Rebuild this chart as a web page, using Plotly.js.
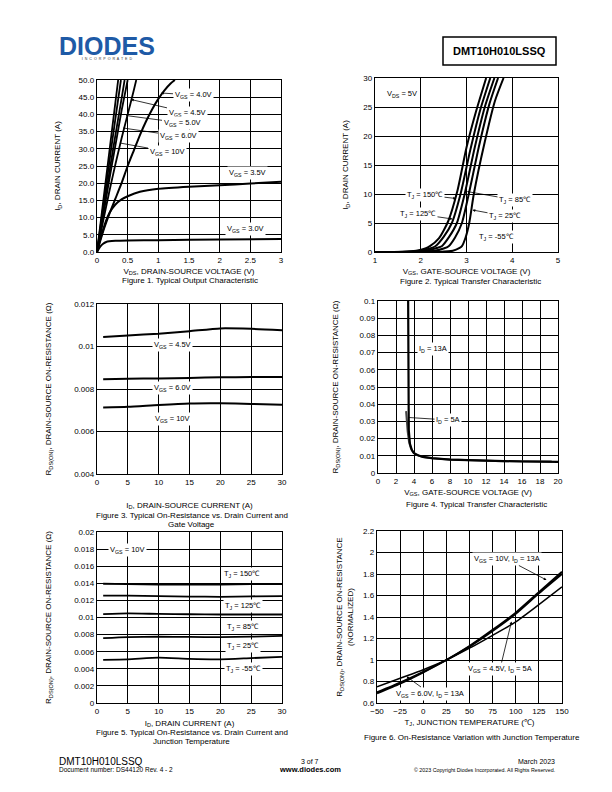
<!DOCTYPE html>
<html><head><meta charset="utf-8">
<script src="https://cdn.plot.ly/plotly-3.0.1.min.js"></script>
<style>html,body{margin:0;padding:0;background:#fff}#c{width:612px;height:792px}</style>
</head><body><div id="c"></div>
<script>
// ---------- Figure 1 data: Typical Output Characteristic ----------
const fig1_vgs10_vds = [0, 0.1, 0.2, 0.3, 0.345];
const fig1_vgs10_id  = [0, 14.5, 29, 43.5, 50];
const fig1_unl_vds   = [0, 0.1, 0.2, 0.3, 0.39];
const fig1_unl_id    = [0, 13, 26, 38.8, 50];
const fig1_vgs6_vds  = [0, 0.1, 0.2, 0.3, 0.4, 0.45];
const fig1_vgs6_id   = [0, 11.5, 23, 34, 44.5, 50];
const fig1_vgs5_vds  = [0, 0.1, 0.2, 0.3, 0.4, 0.5];
const fig1_vgs5_id   = [0, 10.5, 21, 31, 41, 50];
const fig1_vgs45_vds = [0, 0.1, 0.2, 0.3, 0.4, 0.5, 0.6, 0.64];
const fig1_vgs45_id  = [0, 9, 17.5, 25.5, 33, 40, 47, 50];
const fig1_vgs4_vds  = [0, 0.1, 0.2, 0.3, 0.4, 0.5, 0.6, 0.7, 0.8, 0.9, 1.0, 1.1, 1.2, 1.27];
const fig1_vgs4_id   = [0, 6, 11, 15.5, 20, 25, 29.5, 34, 38, 41.5, 44.5, 47, 49, 50];
const fig1_vgs35_vds = [0, 0.05, 0.1, 0.15, 0.2, 0.3, 0.4, 0.5, 0.7, 1, 1.5, 2, 2.5, 3];
const fig1_vgs35_id  = [0, 3.5, 6.5, 9.2, 11.3, 13.8, 15.3, 16.2, 17.5, 18.4, 19, 19.4, 19.9, 20.4];
const fig1_vgs3_vds  = [0, 0.05, 0.1, 0.15, 0.2, 0.3, 0.5, 1, 2, 3];
const fig1_vgs3_id   = [0, 1.5, 2.4, 2.9, 3.1, 3.25, 3.35, 3.45, 3.6, 3.75];

// ---------- Figure 2 data: Typical Transfer Characteristic ----------
const fig2_t150_vgs = [1, 1.6, 1.9, 2.1, 2.2, 2.4, 2.6, 2.8, 3.0, 3.2, 3.43];
const fig2_t150_id  = [0, 0.03, 0.2, 0.6, 1.0, 2.4, 5.3, 10.5, 18, 24, 30];
const fig2_t125_vgs = [1, 1.7, 2.0, 2.2, 2.32, 2.5, 2.68, 2.87, 3.08, 3.3, 3.52];
const fig2_t125_id  = [0, 0.03, 0.2, 0.6, 1.0, 2.6, 5, 10, 17.5, 24.5, 30];
const fig2_t85_vgs  = [1, 1.8, 2.1, 2.35, 2.46, 2.62, 2.79, 2.96, 3.18, 3.4, 3.61];
const fig2_t85_id   = [0, 0.03, 0.2, 0.7, 1.0, 2.6, 5, 10, 18, 25, 30];
const fig2_t25_vgs  = [1, 2.0, 2.3, 2.5, 2.61, 2.75, 2.9, 3.05, 3.28, 3.5, 3.69];
const fig2_t25_id   = [0, 0.03, 0.2, 0.6, 1.0, 2.5, 5, 10, 18.5, 25.5, 30];
const fig2_tm55_vgs = [1, 2.4, 2.7, 2.85, 2.9, 2.98, 3.06, 3.16, 3.4, 3.62, 3.81];
const fig2_tm55_id  = [0, 0.02, 0.2, 0.7, 1.0, 2.5, 5, 10, 19, 26, 30];

// ---------- Figure 3 data: On-Resistance vs Drain Current and Gate Voltage ----------
const fig3_id    = [1, 5, 10, 15, 20, 25, 30];
const fig3_vgs45 = [0.01045, 0.01052, 0.0106, 0.01072, 0.01085, 0.01083, 0.01077];
const fig3_vgs6  = [0.00846, 0.00848, 0.0085, 0.00852, 0.00855, 0.00856, 0.00857];
const fig3_vgs10 = [0.00713, 0.00716, 0.00725, 0.00732, 0.00733, 0.0073, 0.00726];

// ---------- Figure 4 data: RDS(ON) vs VGS ----------
const fig4_13a_vgs = [3.35, 3.35, 3.37, 3.42, 3.55, 3.75, 4.0, 4.5, 5, 6, 8, 10, 12, 14, 16, 18, 20];
const fig4_13a_r   = [0.1, 0.06, 0.04, 0.025, 0.017, 0.0135, 0.0115, 0.0102, 0.0094, 0.0086, 0.0078, 0.0074, 0.0071, 0.0069, 0.0067, 0.0066, 0.0065];
const fig4_5a_vgs  = [3.12, 3.2, 3.3, 3.45, 3.65, 3.9, 4.3, 5, 6, 8, 10, 13, 16, 19.3];
const fig4_5a_r    = [0.036, 0.03, 0.024, 0.018, 0.0145, 0.012, 0.0105, 0.0093, 0.0085, 0.0078, 0.0074, 0.007, 0.0068, 0.0067];

// ---------- Figure 5 data: On-Resistance vs Drain Current and Junction Temperature ----------
const fig5_id    = [1, 5, 10, 15, 20, 25, 30];
const fig5_t150  = [0.01395, 0.0139, 0.01385, 0.01385, 0.01385, 0.0139, 0.0139];
const fig5_t125  = [0.01255, 0.01255, 0.0125, 0.01245, 0.01242, 0.01248, 0.0125];
const fig5_t85   = [0.0104, 0.01048, 0.01042, 0.01038, 0.01035, 0.01035, 0.01035];
const fig5_t25   = [0.00758, 0.0077, 0.00775, 0.00773, 0.0077, 0.00776, 0.00785];
const fig5_tm55  = [0.00505, 0.0051, 0.0053, 0.00515, 0.0051, 0.00525, 0.0054];

// ---------- Figure 6 data: Normalized On-Resistance vs Junction Temperature ----------
const fig6_tj    = [-50, -25, 0, 25, 50, 75, 100, 125, 150];
const fig6_vgs10 = [0.70, 0.79, 0.89, 1.0, 1.13, 1.28, 1.44, 1.63, 1.82];
const fig6_vgs6  = [0.69, 0.78, 0.885, 1.0, 1.125, 1.27, 1.43, 1.62, 1.80];
const fig6_vgs45 = [0.75, 0.83, 0.91, 1.0, 1.11, 1.23, 1.355, 1.515, 1.68];

// ---------- layout helpers ----------
const W = 612, H = 792;
const F = "Liberation Sans, Arial, sans-serif";
const px = x => x / W;
const py = y => 1 - y / H;

function line(x, y, xa, ya, name, w, color, shape) {
  return {x: x, y: y, xaxis: xa, yaxis: ya, name: name, type: 'scatter', mode: 'lines',
    line: {color: color || '#000', width: w || 2, shape: shape || 'spline', smoothing: 0.6},
    hoverinfo: 'skip'};
}

const traces = [
  line(fig1_vgs10_vds, fig1_vgs10_id, 'x', 'y', 'VGS = 10V', 1.8),
  line(fig1_unl_vds, fig1_unl_id, 'x', 'y', 'VGS (unlabeled)', 1.8),
  line(fig1_vgs6_vds, fig1_vgs6_id, 'x', 'y', 'VGS = 6.0V', 1.8),
  line(fig1_vgs5_vds, fig1_vgs5_id, 'x', 'y', 'VGS = 5.0V', 1.8),
  line(fig1_vgs45_vds, fig1_vgs45_id, 'x', 'y', 'VGS = 4.5V', 1.8),
  line(fig1_vgs4_vds, fig1_vgs4_id, 'x', 'y', 'VGS = 4.0V', 2),
  line(fig1_vgs35_vds, fig1_vgs35_id, 'x', 'y', 'VGS = 3.5V', 2),
  line(fig1_vgs3_vds, fig1_vgs3_id, 'x', 'y', 'VGS = 3.0V', 2),

  line(fig2_t150_vgs, fig2_t150_id, 'x2', 'y2', 'TJ = 150°C', 2),
  line(fig2_t125_vgs, fig2_t125_id, 'x2', 'y2', 'TJ = 125°C', 2),
  line(fig2_t85_vgs, fig2_t85_id, 'x2', 'y2', 'TJ = 85°C', 2),
  line(fig2_t25_vgs, fig2_t25_id, 'x2', 'y2', 'TJ = 25°C', 2),
  line(fig2_tm55_vgs, fig2_tm55_id, 'x2', 'y2', 'TJ = -55°C', 2),

  line(fig3_id, fig3_vgs45, 'x3', 'y3', 'VGS = 4.5V', 2),
  line(fig3_id, fig3_vgs6, 'x3', 'y3', 'VGS = 6.0V', 2),
  line(fig3_id, fig3_vgs10, 'x3', 'y3', 'VGS = 10V', 2),

  line(fig4_5a_vgs, fig4_5a_r, 'x4', 'y4', 'ID = 5A', 2, '#444', 'linear'),
  line(fig4_13a_vgs, fig4_13a_r, 'x4', 'y4', 'ID = 13A', 2.2, '#000', 'linear'),

  line(fig5_id, fig5_t150, 'x5', 'y5', 'TJ = 150°C', 1.8),
  line(fig5_id, fig5_t125, 'x5', 'y5', 'TJ = 125°C', 1.8),
  line(fig5_id, fig5_t85, 'x5', 'y5', 'TJ = 85°C', 1.8),
  line(fig5_id, fig5_t25, 'x5', 'y5', 'TJ = 25°C', 1.8),
  line(fig5_id, fig5_tm55, 'x5', 'y5', 'TJ = -55°C', 1.8),

  line(fig6_tj, fig6_vgs10, 'x6', 'y6', 'VGS = 10V, ID = 13A', 2),
  line(fig6_tj, fig6_vgs6, 'x6', 'y6', 'VGS = 6.0V, ID = 13A', 2),
  line(fig6_tj, fig6_vgs45, 'x6', 'y6', 'VGS = 4.5V, ID = 5A', 1.5)
];

function axis(dom, range, tick0, dtick, anchor, title, standoff, extra) {
  return Object.assign({
    domain: dom, range: range, tick0: tick0, dtick: dtick, anchor: anchor,
    showgrid: true, gridcolor: '#000', gridwidth: 1,
    showline: true, mirror: true, linecolor: '#000', linewidth: 1.2,
    zeroline: false, ticks: '', fixedrange: true,
    tickfont: {family: F, size: 8, color: '#000'},
    title: {text: title, standoff: standoff, font: {family: F, size: 8, color: '#000'}}
  }, extra || {});
}

const RDS = 'R<sub>DS(ON)</sub>, DRAIN-SOURCE ON-RESISTANCE (Ω)';

const layout = {
  width: W, height: H, margin: {l: 0, r: 0, t: 0, b: 0},
  paper_bgcolor: '#fff', plot_bgcolor: '#fff', showlegend: false,
  font: {family: F, size: 8, color: '#000'},
  xaxis:  axis([px(97), px(281)], [0, 3], 0, 0.5, 'y', 'V<sub>DS</sub>, DRAIN-SOURCE VOLTAGE (V)', 4),
  yaxis:  axis([py(252), py(80)], [0, 50], 0, 5, 'x', 'I<sub>D</sub>, DRAIN CURRENT (A)', 16, {tickformat: '.1f'}),
  xaxis2: axis([px(375), px(558)], [1, 5], 1, 1, 'y2', 'V<sub>GS</sub>, GATE-SOURCE VOLTAGE (V)', 4),
  yaxis2: axis([py(252), py(78)], [0, 30], 0, 5, 'x2', 'I<sub>D</sub>, DRAIN CURRENT (A)', 13),
  xaxis3: axis([px(97), px(282)], [0, 30], 0, 5, 'y3', 'I<sub>D</sub>, DRAIN-SOURCE CURRENT (A)', 16),
  yaxis3: axis([py(474), py(304)], [0.004, 0.012], 0.004, 0.002, 'x3', RDS, 21),
  xaxis4: axis([px(378), px(558)], [0, 20], 0, 2, 'y4', 'V<sub>GS</sub>, GATE-SOURCE VOLTAGE (V)', 4),
  yaxis4: axis([py(473), py(301)], [0, 0.1], 0, 0.01, 'x4', RDS, 19),
  xaxis5: axis([px(97), px(282)], [0, 30], 0, 5, 'y5', 'I<sub>D</sub>, DRAIN CURRENT (A)', 5),
  yaxis5: axis([py(703), py(532)], [0, 0.02], 0, 0.002, 'x5', RDS, 21),
  xaxis6: axis([px(377), px(562)], [-50, 150], -50, 25, 'y6', 'T<sub>J</sub>, JUNCTION TEMPERATURE (℃)', 4),
  yaxis6: axis([py(703), py(531)], [0.6, 2.2], 0.6, 0.2, 'x6', 'R<sub>DS(ON)</sub>, DRAIN-SOURCE ON-RESISTANCE<br>(NORMALIZED)', 8),
  shapes: [
    {type: 'rect', xref: 'paper', yref: 'paper', x0: px(443), x1: px(556), y0: py(37), y1: py(65), line: {color: '#000', width: 1.5}}
  ],
  annotations: []
};

const A = layout.annotations;
function txt(t, x, y, size, opts) {
  A.push(Object.assign({text: t, xref: 'paper', yref: 'paper', x: px(x), y: py(y), showarrow: false,
    xanchor: 'center', yanchor: 'middle', font: {family: F, size: size || 8, color: '#000'}}, opts || {}));
}
function lab(t, cx, cy, opts) {
  txt(t, cx, cy, 7.5, Object.assign({bgcolor: '#fff', borderpad: 1}, opts || {}));
}
function arr(t, cx, cy, tipx, tipy, head) {
  A.push({text: t, xref: 'paper', yref: 'paper', x: px(tipx), y: py(tipy), ax: cx - tipx, ay: cy - tipy,
    showarrow: true, arrowhead: head === undefined ? 2 : head, arrowsize: 0.7, arrowwidth: 0.8, arrowcolor: '#000',
    bgcolor: '#fff', borderpad: 1, font: {family: F, size: 7.5, color: '#000'}});
}

// header: logo as one text block (large word + small spaced line beneath)
txt('<span style="font-size:25px;color:#1e5aa6"><b>DIODES</b></span><br>I  N  C  O  R  P  O  R  A  T  E  D',
    107, 46.5, 3.6, {font: {family: F, size: 3.6, color: '#333'}});
txt('<b>DMT10H010LSSQ</b>', 499.5, 51, 11);

// Figure 1 labels
arr('V<sub>GS</sub> = 4.0V', 193, 95, 161, 93);
arr('V<sub>GS</sub> = 4.5V', 187, 112.5, 131, 99.5);
arr('V<sub>GS</sub> = 5.0V', 182, 123, 126, 115.5, 0);
arr('V<sub>GS</sub> = 6.0V', 178, 136, 123, 128, 0);
arr('V<sub>GS</sub> = 10V', 167, 151.5, 120, 143, 0);
lab('V<sub>GS</sub> = 3.5V', 247, 173);
lab('V<sub>GS</sub> = 3.0V', 245, 229);
txt('Figure 1. Typical Output Characteristic', 190, 280, 8);

// Figure 2 labels
lab('V<sub>DS</sub> = 5V', 402, 94);
arr('T<sub>J</sub> = 150℃', 425, 195, 456, 198.5);
arr('T<sub>J</sub> = 125℃', 418, 214, 452.5, 219);
arr('T<sub>J</sub> = 85℃', 515, 200, 467, 191.5);
arr('T<sub>J</sub> = 25℃', 505, 216, 472.5, 210);
lab('T<sub>J</sub> = -55℃', 496, 236.5);
txt('Figure 2. Typical Transfer Characteristic', 470, 281, 8);

// Figure 3 labels
lab('V<sub>GS</sub> = 4.5V', 172, 345);
lab('V<sub>GS</sub> = 6.0V', 172, 388.5);
lab('V<sub>GS</sub> = 10V', 172, 419.5);
txt('Figure 3. Typical On-Resistance vs. Drain Current and', 191.5, 515.5, 8);
txt('Gate Voltage', 191.5, 524.5, 8);

// Figure 4 labels
lab('I<sub>D</sub> = 13A', 433, 348.5);
arr('I<sub>D</sub> = 5A', 448, 420, 409, 417.5, 0);
txt('Figure 4. Typical Transfer Characteristic', 476.5, 504.5, 8);

// Figure 5 labels
lab('V<sub>GS</sub> = 10V', 127, 550);
lab('T<sub>J</sub> = 150℃', 242, 574);
lab('T<sub>J</sub> = 125℃', 243, 606);
lab('T<sub>J</sub> = 85℃', 243, 626.5);
lab('T<sub>J</sub> = 25℃', 243, 646);
lab('T<sub>J</sub> = -55℃', 243, 669);
txt('Figure 5. Typical On-Resistance vs. Drain Current and', 191.5, 732.5, 8);
txt('Junction Temperature', 191.5, 741, 8);

// Figure 6 labels
arr('V<sub>GS</sub> = 10V, I<sub>D</sub> = 13A', 506.5, 559, 546.5, 580);
arr('V<sub>GS</sub> = 4.5V, I<sub>D</sub> = 5A', 500, 669, 511.5, 621.5);
arr('V<sub>GS</sub> = 6.0V, I<sub>D</sub> = 13A', 430, 693.5, 406.5, 676.5);
txt('Figure 6. On-Resistance Variation with Junction Temperature', 471.5, 737, 8);

// footer
txt('DMT10H010LSSQ', 57, 761, 10, {xanchor: 'left'});
txt('Document number: DS44120 Rev. 4 - 2', 57, 769, 6.5, {xanchor: 'left'});
txt('3 of 7', 310, 761, 7);
txt('<b>www.diodes.com</b>', 310, 769.5, 7.5);
txt('March 2023', 557, 761, 7, {xanchor: 'right'});
txt('© 2023 Copyright Diodes Incorporated. All Rights Reserved.', 557, 769.5, 5.3, {xanchor: 'right'});

Plotly.newPlot('c', traces, layout, {staticPlot: true, displayModeBar: false});
</script>
</body></html>
